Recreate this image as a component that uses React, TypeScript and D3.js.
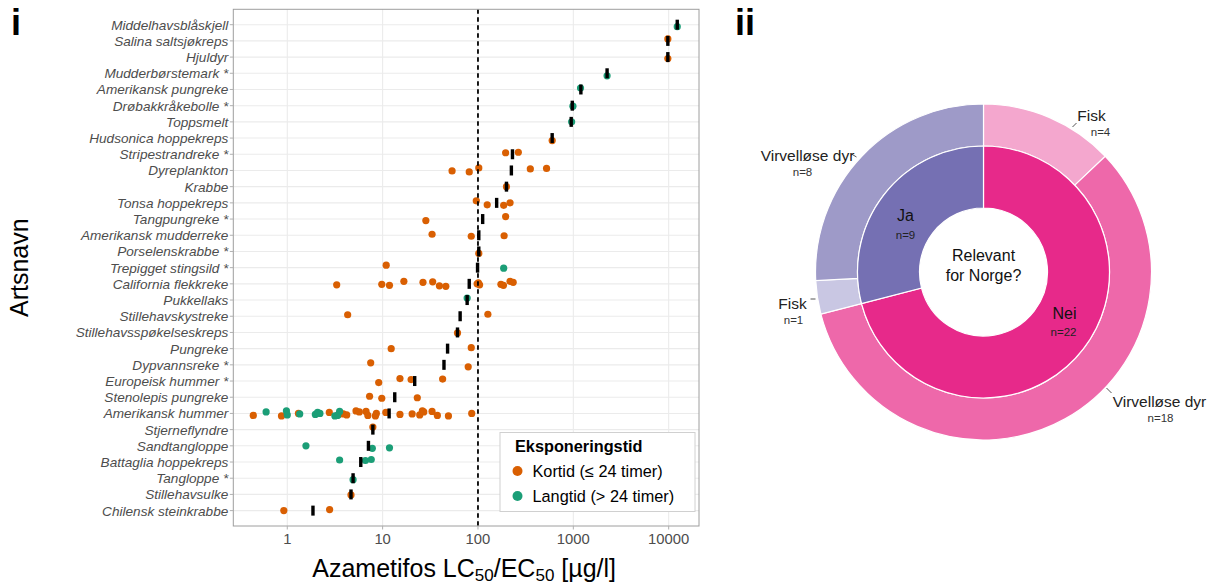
import React from "react";
import * as d3 from "d3";

// ---------- Data ----------
const species = [
  "Middelhavsblåskjell", "Salina saltsjøkreps", "Hjuldyr", "Mudderbørstemark *",
  "Amerikansk pungreke", "Drøbakkråkebolle *", "Toppsmelt", "Hudsonica hoppekreps",
  "Stripestrandreke *", "Dyreplankton", "Krabbe", "Tonsa hoppekreps", "Tangpungreke *",
  "Amerikansk mudderreke", "Porselenskrabbe *", "Trepigget stingsild *",
  "California flekkreke", "Pukkellaks", "Stillehavskystreke", "Stillehavsspøkelseskreps",
  "Pungreke", "Dypvannsreke *", "Europeisk hummer *", "Stenolepis pungreke",
  "Amerikansk hummer", "Stjerneflyndre", "Sandtangloppe", "Battaglia hoppekreps",
  "Tangloppe *", "Stillehavsulke", "Chilensk steinkrabbe",
];

// Kortid (<= 24 timer)
const kortid: number[][] = [
  [], [9800], [9800], [], [], [], [], [600],
  [195, 265], [53.5, 81, 102, 354, 524], [199], [96, 125, 186, 217], [28.4, 195],
  [33, 85, 188], [102], [10.9],
  [3.3, 9.8, 11.8, 16.7, 26.5, 33.5, 39.4, 46, 98, 101, 104, 174, 185, 217, 234],
  [], [4.3, 127], [61], [12.3, 85], [7.5, 79], [9.1, 15.2, 19.9, 42.6], [7.3, 9.8, 23.1],
  [0.44, 0.87, 1.31, 2.76, 3.45, 3.87, 4.2, 5.26, 5.7, 6.7, 7.0, 8.4, 8.6, 10.8, 15.2, 20.4, 24.5, 26.1, 27, 33, 37.5, 49, 86],
  [7.9], [], [], [], [4.66], [0.92, 2.78],
];

// Langtid (> 24 timer)
const langtid: number[][] = [
  [12300], [], [], [2260], [1190], [990], [960], [],
  [], [], [], [], [],
  [], [], [186],
  [],
  [77], [], [], [], [], [], [],
  [0.6, 0.98, 1.0, 1.35, 1.97, 2.08, 2.2, 3.16, 3.37, 3.54],
  [], [1.57, 7.8, 11.8], [3.54, 6.6, 7.6], [4.9], [], [],
];

const medianer = [
  12300, 9800, 9800, 2260, 1200, 975, 950, 600,
  230, 224, 199, 157, 112, 102, 102, 99,
  81, 77, 65, 61, 48, 44, 21.7, 13.4,
  11.7, 7.9, 7.1, 5.9, 4.9, 4.66, 1.86,
];

const xTicks = [1, 10, 100, 1000, 10000];
const thresholdValue = 100;

const legendLabels = ["Kortid (≤ 24 timer)", "Langtid (> 24 timer)"];

// Donut data
const innerLabels = ["Nei", "Ja"];
const innerCounts = [22, 9];
const outerLabels = ["Fisk", "Virvelløse dyr", "Fisk", "Virvelløse dyr"];
const outerCounts = [4, 18, 1, 8];

// ---------- Styles ----------
const ORANGE = "#D95F02";
const GREEN = "#1B9E77";
const innerColors = ["#E7298A", "#7570B3"];
const outerColors = ["#F4A7CE", "#EE68AA", "#C9C7E3", "#9E9AC8"];
const FONT = "'Liberation Sans', Arial, sans-serif";

const jitterPattern = [0, -2, 1.5, -1, 2, -2.5, 1, 2.5, -1.5, 0.5];

export default function App() {
  const W = 1215, H = 588;
  const left = 233.3, right = 699, top = 9.3, bottom = 526;
  const x = d3.scaleLog()
    .domain([Math.pow(10, -0.566), Math.pow(10, 4.318)])
    .range([left, right]);
  const y = d3.scalePoint<string>().domain(species).range([top, bottom]).padding(0.95);

  const pts: { v: number; row: number; c: string; j: number }[] = [];
  species.forEach((s, i) => {
    kortid[i].forEach((v, k) => pts.push({ v, row: i, c: ORANGE, j: jitterPattern[(k * 3 + i) % 10] }));
    langtid[i].forEach((v, k) => pts.push({ v, row: i, c: GREEN, j: jitterPattern[(k * 7 + i + 4) % 10] }));
  });

  // Donut
  const cx = 983.5, cy = 272;
  const rHole = 64, rMid = 126, rOut = 168;
  const pie = d3.pie<number>().sort(null).value((d) => d).startAngle(0).endAngle(2 * Math.PI);
  const innerArcs = pie(innerCounts);
  const outerArcs = pie(outerCounts);
  const arcInner = d3.arc<d3.PieArcDatum<number>>().innerRadius(rHole).outerRadius(rMid);
  const arcOuter = d3.arc<d3.PieArcDatum<number>>().innerRadius(rMid).outerRadius(rOut);

  const outerLabelLayout = [
    { tx: 108, ty: -156, nx: 117, ny: -140, l: [[89, -145], [93, -149]] },
    { tx: 176, ty: 130, nx: 177, ny: 146, l: [[123, 116], [128, 121]] },
    { tx: -191, ty: 32, nx: -190, ny: 48, l: [[-173, 27], [-168, 27]] },
    { tx: -176, ty: -116, nx: -181, ny: -100, l: [[-132, -118], [-127, -115]] },
  ];
  const innerLabelLayout = [
    { tx: 81, ty: 41, nx: 80, ny: 60 },
    { tx: -78, ty: -57, nx: -78, ny: -37 },
  ];

  return (
    <svg width={W} height={H} style={{ position: "absolute", left: 0, top: 0, background: "#fff" }} fontFamily={FONT}>
      <text x={11} y={35} fontSize={36} fontWeight="bold">i</text>
      <text x={735} y={35} fontSize={36} fontWeight="bold">ii</text>

      {species.map((s) => (
        <line key={"hg" + s} x1={left} x2={right} y1={y(s)} y2={y(s)} stroke="#EBEBEB" strokeWidth={1.1} />
      ))}
      {xTicks.map((t) => (
        <line key={"vg" + t} x1={x(t)} x2={x(t)} y1={top} y2={bottom} stroke="#EBEBEB" strokeWidth={1.1} />
      ))}

      {pts.map((p, i) => (
        <circle key={"p" + i} cx={x(p.v)} cy={(y(species[p.row]) as number) + p.j} r={3.6} fill={p.c} />
      ))}

      {medianer.map((m, i) => (
        <rect key={"m" + i} x={x(m) - 1.7} y={(y(species[i]) as number) - 5} width={3.4} height={10} fill="#000" />
      ))}

      <line x1={x(thresholdValue)} x2={x(thresholdValue)} y1={top} y2={bottom} stroke="#000" strokeWidth={1.8} strokeDasharray="4.5,3.5" />

      <rect x={left} y={top} width={right - left} height={bottom - top} fill="none" stroke="#9E9E9E" strokeWidth={1} />

      {species.map((s) => (
        <g key={"yt" + s}>
          <line x1={left - 3.5} x2={left} y1={y(s)} y2={y(s)} stroke="#B0B0B0" strokeWidth={1} />
          <text x={left - 5} y={y(s)} dy="0.36em" textAnchor="end" fontSize={13.6} fontStyle="italic" fill="#4D4D4D">{s}</text>
        </g>
      ))}

      {xTicks.map((t) => (
        <g key={"xt" + t}>
          <line x1={x(t)} x2={x(t)} y1={bottom} y2={bottom + 3.5} stroke="#B0B0B0" strokeWidth={1} />
          <text x={x(t)} y={bottom + 17.5} textAnchor="middle" fontSize={14.8} fill="#4D4D4D">{d3.format("d")(t)}</text>
        </g>
      ))}

      <text x={(left + right) / 2 - 2} y={577} textAnchor="middle" fontSize={25} fill="#000">
        Azametifos LC<tspan fontSize={17} dy={4}>50</tspan><tspan dy={-4}>/EC</tspan><tspan fontSize={17} dy={4}>50</tspan><tspan dy={-4}> [µg/l]</tspan>
      </text>
      <text transform={`translate(28,${(top + bottom) / 2}) rotate(-90)`} textAnchor="middle" fontSize={25} fill="#000">Artsnavn</text>

      <rect x={500} y={432.5} width={195} height={79} fill="#fff" stroke="#D0D0D0" strokeWidth={1} />
      <text x={515} y={452} fontSize={16.3} fontWeight="bold">Eksponeringstid</text>
      {legendLabels.map((l, i) => (
        <g key={"lg" + i}>
          <circle cx={517.5} cy={471 + i * 25} r={5} fill={i === 0 ? ORANGE : GREEN} />
          <text x={532.5} y={476.5 + i * 25} fontSize={16.3} fill="#000">{l}</text>
        </g>
      ))}

      <g transform={`translate(${cx},${cy})`}>
        {outerArcs.map((a, i) => (
          <path key={"oa" + i} d={arcOuter(a) as string} fill={outerColors[i]} stroke="#fff" strokeWidth={1.2} />
        ))}
        {innerArcs.map((a, i) => (
          <path key={"ia" + i} d={arcInner(a) as string} fill={innerColors[i]} stroke="#fff" strokeWidth={1.2} />
        ))}
        {outerArcs.map((a, i) => {
          const L = outerLabelLayout[i];
          return (
            <g key={"ol" + i}>
              <line x1={L.l[0][0]} y1={L.l[0][1]} x2={L.l[1][0]} y2={L.l[1][1]} stroke="#555" strokeWidth={1} />
              <text x={L.tx} y={L.ty} dy="0.35em" textAnchor="middle" fontSize={15.5} fill="#222">{outerLabels[i]}</text>
              <text x={L.nx} y={L.ny} dy="0.35em" textAnchor="middle" fontSize={11.5} fill="#333">{"n=" + outerCounts[i]}</text>
            </g>
          );
        })}
        {innerArcs.map((a, i) => {
          const L = innerLabelLayout[i];
          return (
            <g key={"il" + i}>
              <text x={L.tx} y={L.ty} dy="0.35em" textAnchor="middle" fontSize={16} fill="#111">{innerLabels[i]}</text>
              <text x={L.nx} y={L.ny} dy="0.35em" textAnchor="middle" fontSize={11.5} fill="#222">{"n=" + innerCounts[i]}</text>
            </g>
          );
        })}
        <text x={0} y={-17} dy="0.35em" textAnchor="middle" fontSize={16} fill="#111">Relevant</text>
        <text x={0} y={3} dy="0.35em" textAnchor="middle" fontSize={16} fill="#111">for Norge?</text>
      </g>
    </svg>
  );
}
